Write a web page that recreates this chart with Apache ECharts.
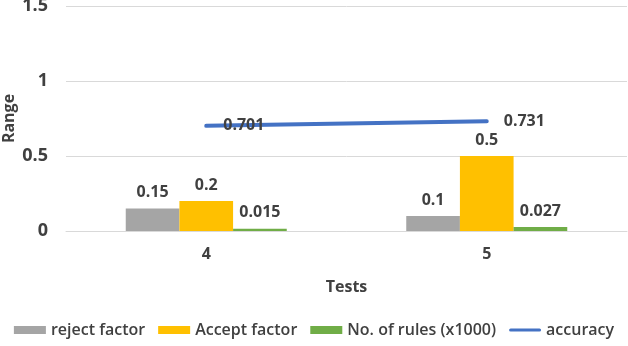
<!DOCTYPE html>
<html><head><meta charset="utf-8">
<script src="https://cdn.jsdelivr.net/npm/echarts@6/dist/echarts.min.js"></script>
<style>html,body{margin:0;padding:0;background:#fff}#c{width:628px;height:346px}</style>
</head><body><div id="c"></div>
<script>
const categories = ['4', '5'];
const rejectFactor = [0.15, 0.1];
const acceptFactor = [0.2, 0.5];
const numRules = [0.015, 0.027];
const accuracy = [0.701, 0.731];
const yTicks = [0, 0.5, 1, 1.5];

const FONT = 'Open Sans';
const lblStyle = {show: true, position: 'top', color: '#404040', fontFamily: FONT, fontWeight: 'bold', fontSize: 16, distance: 8};
const chart = echarts.init(document.getElementById('c'));
chart.setOption({
  animation: false,
  textStyle: {fontFamily: FONT},
  grid: {left: 66, right: 1, top: 6, bottom: 115, containLabel: false, outerBoundsMode: 'none'},
  legend: {
    bottom: 3, left: 'center', itemGap: 13, itemWidth: 32, itemHeight: 8,
    textStyle: {color: '#404040', fontSize: 16, fontFamily: FONT, fontWeight: 600},
    data: [
      {name: 'reject factor', icon: 'rect'},
      {name: 'Accept factor', icon: 'rect'},
      {name: 'No. of rules (x1000)', icon: 'rect'},
      {name: 'accuracy', icon: 'path://M2,0 H38 A2,2 0 0 1 38,4 H2 A2,2 0 0 1 2,0 Z', itemStyle: {color: '#4472C4', opacity: 1}}
    ]
  },
  xAxis: {
    type: 'category', data: categories,
    name: 'Tests', nameLocation: 'middle', nameGap: 48, nameMoveOverlap: false,
    nameTextStyle: {color: '#404040', fontWeight: 'bold', fontSize: 16, fontFamily: FONT},
    axisLine: {lineStyle: {color: '#D9D9D9'}}, axisTick: {show: false},
    axisLabel: {color: '#404040', fontSize: 16, fontWeight: 'bold', margin: 15}
  },
  yAxis: {
    type: 'value', min: 0, max: 1.5, interval: 0.5,
    name: 'Range', nameLocation: 'middle', nameGap: 49, nameMoveOverlap: false,
    nameTextStyle: {color: '#404040', fontWeight: 'bold', fontSize: 16, fontFamily: FONT},
    axisLine: {show: false}, axisTick: {show: false},
    splitLine: {lineStyle: {color: '#D9D9D9'}},
    axisLabel: {color: '#404040', fontSize: 18, fontWeight: 'bold', margin: 18,
      formatter: v => yTicks.includes(v) ? String(v) : ''}
  },
  series: [
    {name: 'reject factor', type: 'bar', data: rejectFactor, barGap: '0%', barCategoryGap: '42.6%',
     itemStyle: {color: '#A5A5A5'}, label: lblStyle},
    {name: 'Accept factor', type: 'bar', data: acceptFactor,
     itemStyle: {color: '#FFC000'}, label: lblStyle},
    {name: 'No. of rules (x1000)', type: 'bar', data: numRules,
     itemStyle: {color: '#70AD47'}, label: lblStyle},
    {name: 'accuracy', type: 'line', data: accuracy, symbol: 'circle', symbolSize: 2, showSymbol: true,
     lineStyle: {color: '#4472C4', width: 4, cap: 'round'}, itemStyle: {color: '#4472C4'},
     label: {show: true, position: 'right', distance: 16, color: '#404040', fontFamily: FONT, fontWeight: 'bold', fontSize: 16}}
  ]
});
</script></body></html>
